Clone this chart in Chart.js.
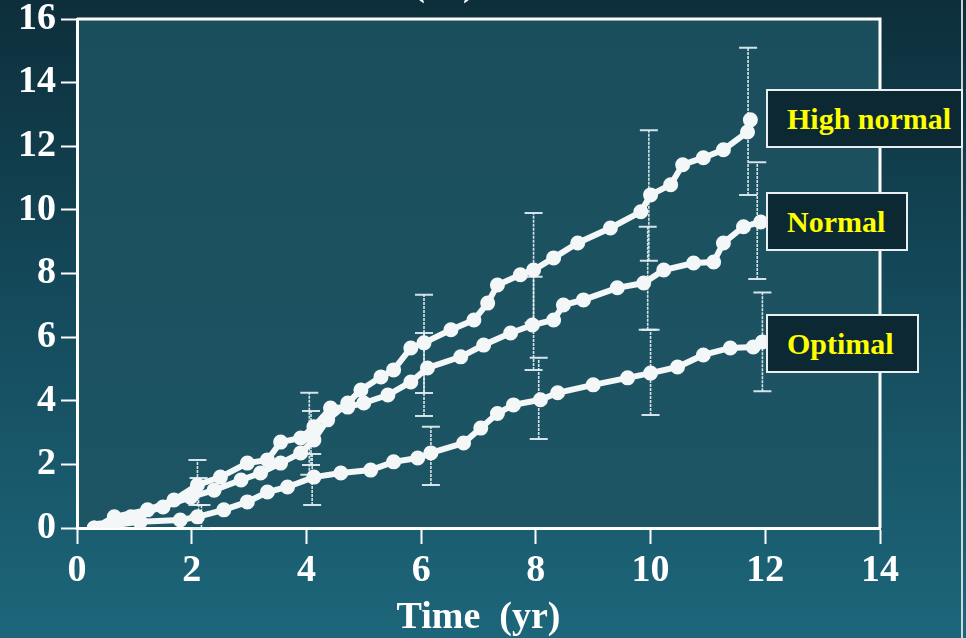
<!DOCTYPE html>
<html>
<head>
<meta charset="utf-8">
<script src="https://cdn.jsdelivr.net/npm/chart.js@4"></script>
<style>
  html, body { margin: 0; padding: 0; }
  body {
    width: 966px; height: 638px; overflow: hidden; position: relative;
    background: linear-gradient(180deg, #0d2f3b 0%, #14495a 45%, #1d667a 100%);
  }
  #chart { position: absolute; left: 0; top: 0; }
  .tag {
    position: absolute; box-sizing: border-box; height: 59px;
    background: #0b2833; border: 2px solid #e9eef0;
    color: #ffff00; font: bold 30px "Liberation Serif", "Times New Roman", serif;
    line-height: 55px; padding-left: 19px; white-space: nowrap;
  }
  .edge { position: absolute; left: 961px; top: 0; width: 2px; height: 638px; background: rgba(230,238,240,0.85); }
</style>
</head>
<body>
<canvas id="chart" width="966" height="638"></canvas>
<div class="edge"></div>
<div class="tag" style="left:766px; top:89px; width:197px;">High normal</div>
<div class="tag" style="left:766px; top:192px; width:142px;">Normal</div>
<div class="tag" style="left:766px; top:314px; width:153px;">Optimal</div>
<script>
// cumulative incidence (%)
const hnTime = [0.4, 0.94, 1.5, 1.98, 2.39, 2.86, 3.2, 3.55, 3.9, 4.13, 4.37, 4.72, 4.95, 5.3, 5.52, 5.82, 6.05, 6.52, 6.92, 7.16, 7.33, 7.73, 7.96, 8.31, 8.73, 9.3, 9.83, 10.0, 10.35, 10.56, 10.92, 11.27, 11.69, 11.74];
const hnValue = [0, 0.35, 0.66, 0.97, 1.19, 1.51, 1.73, 2.04, 2.36, 2.77, 3.4, 3.93, 4.34, 4.75, 4.97, 5.66, 5.82, 6.23, 6.54, 7.07, 7.64, 7.96, 8.11, 8.49, 8.96, 9.43, 9.94, 10.47, 10.79, 11.42, 11.64, 11.89, 12.45, 12.83];

const nTime = [0.3, 0.65, 1.23, 1.69, 2.1, 2.5, 2.97, 3.32, 3.55, 3.9, 4.13, 4.42, 4.72, 5.0, 5.42, 5.82, 6.11, 6.69, 7.09, 7.56, 7.94, 8.31, 8.48, 8.83, 9.42, 9.88, 10.23, 10.75, 11.1, 11.27, 11.62, 11.92];
const nValue = [0, 0.35, 0.57, 0.88, 1.35, 1.6, 2.04, 2.14, 2.7, 2.83, 3.18, 3.77, 3.8, 3.93, 4.18, 4.59, 5.03, 5.38, 5.75, 6.13, 6.38, 6.54, 7.01, 7.17, 7.55, 7.7, 8.11, 8.33, 8.36, 8.96, 9.47, 9.62];

const optTime = [0.3, 1.1, 1.8, 2.1, 2.56, 2.97, 3.32, 3.67, 4.13, 4.6, 5.12, 5.52, 5.94, 6.17, 6.74, 7.04, 7.33, 7.61, 8.08, 8.38, 9.0, 9.6, 10.0, 10.47, 10.92, 11.39, 11.79, 11.95];
const optValue = [0, 0.2, 0.25, 0.35, 0.57, 0.82, 1.13, 1.29, 1.6, 1.73, 1.82, 2.08, 2.2, 2.36, 2.67, 3.14, 3.6, 3.87, 4.03, 4.25, 4.5, 4.72, 4.87, 5.06, 5.44, 5.66, 5.69, 5.85];

// 95% confidence bars
const hnErrTime = [2.12, 4.08, 6.05, 7.96, 9.97, 11.7];
const hnErrLow = [0.4, 1.98, 4.24, 6.45, 8.4, 10.47];
const hnErrHigh = [1.57, 3.68, 7.33, 9.9, 12.5, 15.1];

const nErrTime = [2.1, 4.05, 6.05, 7.96, 9.95, 11.86];
const nErrLow = [0.72, 1.67, 3.52, 4.97, 6.23, 7.83];
const nErrHigh = [2.14, 4.25, 6.13, 7.9, 9.47, 11.5];

const optErrTime = [2.17, 4.1, 6.17, 8.05, 10.0, 11.95];
const optErrLow = [0, 0.72, 1.35, 2.8, 3.55, 4.3];
const optErrHigh = [0.72, 2.33, 3.18, 5.35, 6.23, 7.4];

const xTicks = [0, 2, 4, 6, 8, 10, 12, 14];
const yTicks = [0, 2, 4, 6, 8, 10, 12, 14, 16];

const toPoints = (t, v) => t.map((x, i) => ({ x: x, y: v[i] }));

const serif = '"Liberation Serif", "Times New Roman", serif';

const lineStyle = {
  borderColor: "#f3f7f8",
  backgroundColor: "#f3f7f8",
  borderWidth: 6,
  pointRadius: 4.5,
  pointHoverRadius: 4.5,
  tension: 0,
  fill: false,
};

// plot background, frame and error bars
const framePlugin = {
  id: "frame",
  beforeDraw(chart) {
    const { ctx, chartArea: a } = chart;
    const g = ctx.createLinearGradient(0, a.top, 0, a.bottom);
    g.addColorStop(0, "#1b4e5c");
    g.addColorStop(1, "#1d5564");
    ctx.save();
    ctx.fillStyle = g;
    ctx.fillRect(a.left, a.top, a.right - a.left, a.bottom - a.top);
    ctx.fillStyle = "#ffffff";
    ctx.font = "bold 38px " + serif;
    ctx.textAlign = "center";
    ctx.fillText("(%)", 444, -5);
    ctx.restore();
  },
  beforeDatasetsDraw(chart) {
    const { ctx, chartArea: a, scales } = chart;
    ctx.save();
    ctx.strokeStyle = "#ffffff";
    ctx.lineWidth = 3;
    ctx.beginPath();
    ctx.moveTo(a.left, a.top);
    ctx.lineTo(a.right, a.top);
    ctx.lineTo(a.right, a.bottom);
    ctx.stroke();

    const bars = [
      [hnErrTime, hnErrLow, hnErrHigh],
      [nErrTime, nErrLow, nErrHigh],
      [optErrTime, optErrLow, optErrHigh],
    ];
    ctx.strokeStyle = "rgba(228,240,245,0.92)";
    bars.forEach(([t, lo, hi]) => {
      t.forEach((x, i) => {
        const px = scales.x.getPixelForValue(x);
        const y1 = scales.y.getPixelForValue(lo[i]);
        const y2 = scales.y.getPixelForValue(hi[i]);
        ctx.lineWidth = 1.6;
        ctx.setLineDash([3, 1]);
        ctx.beginPath();
        ctx.moveTo(px, y1);
        ctx.lineTo(px, y2);
        ctx.stroke();
        ctx.setLineDash([]);
        ctx.lineWidth = 2;
        ctx.beginPath();
        ctx.moveTo(px - 9, y1);
        ctx.lineTo(px + 9, y1);
        ctx.moveTo(px - 9, y2);
        ctx.lineTo(px + 9, y2);
        ctx.stroke();
      });
    });
    ctx.restore();
  },
};

new Chart(document.getElementById("chart").getContext("2d"), {
  type: "line",
  data: {
    datasets: [
      { label: "High normal", data: toPoints(hnTime, hnValue), ...lineStyle },
      { label: "Normal", data: toPoints(nTime, nValue), ...lineStyle },
      { label: "Optimal", data: toPoints(optTime, optValue), ...lineStyle },
    ],
  },
  options: {
    responsive: false,
    animation: false,
    events: [],
    layout: { padding: { left: 0, right: 86, top: 19, bottom: 0 } },
    plugins: { legend: { display: false }, tooltip: { enabled: false } },
    scales: {
      x: {
        type: "linear",
        min: 0,
        max: 14,
        afterBuildTicks: (s) => { s.ticks = xTicks.map((v) => ({ value: v })); },
        afterFit: (s) => { s.height = 110; s.paddingLeft = 0; s.paddingRight = 0; },
        grid: { drawOnChartArea: false, drawTicks: true, tickLength: 16, tickWidth: 2, tickColor: "#ffffff" },
        border: { display: true, color: "#ffffff", width: 3 },
        ticks: { color: "#ffffff", padding: 4, font: { family: serif, size: 38, weight: "bold" } },
        title: {
          display: true,
          text: "Time  (yr)",
          color: "#ffffff",
          font: { family: serif, size: 38, weight: "bold" },
          padding: { top: 0, bottom: -3 },
        },
      },
      y: {
        min: 0,
        max: 16,
        afterBuildTicks: (s) => { s.ticks = yTicks.map((v) => ({ value: v })); },
        afterFit: (s) => { s.width = 77; s.paddingTop = 0; s.paddingBottom = 0; },
        grid: { drawOnChartArea: false, drawTicks: true, tickLength: 16, tickWidth: 2, tickColor: "#ffffff" },
        border: { display: true, color: "#ffffff", width: 3 },
        ticks: { color: "#ffffff", padding: 5, font: { family: serif, size: 38, weight: "bold" } },
      },
    },
  },
  plugins: [framePlugin],
});
</script>
</body>
</html>
